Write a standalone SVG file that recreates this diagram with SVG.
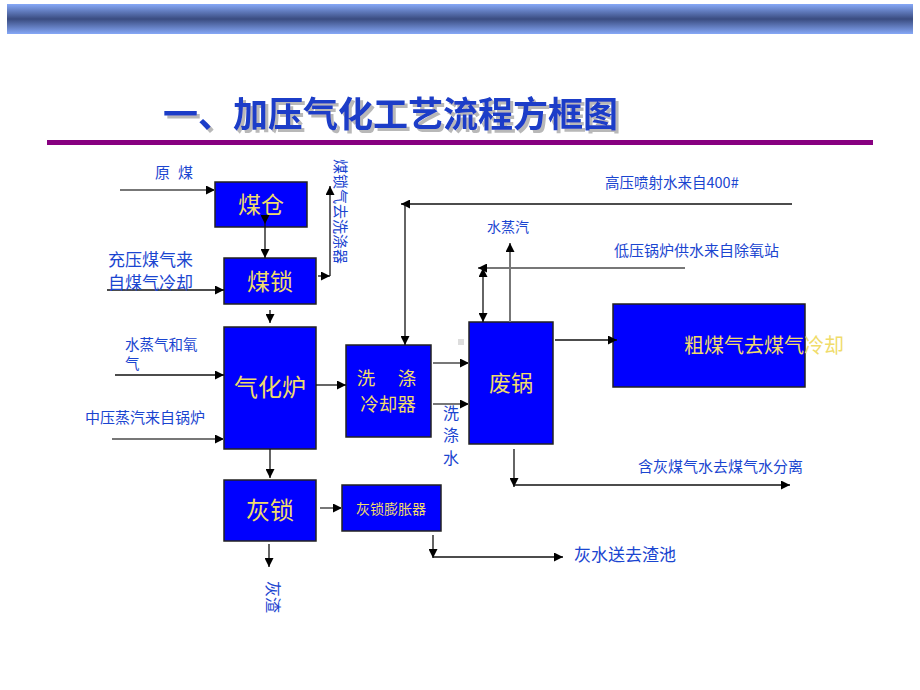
<svg xmlns="http://www.w3.org/2000/svg" width="920" height="690" viewBox="0 0 920 690">
<defs>
<linearGradient id="bar" x1="0" y1="0" x2="0" y2="1">
<stop offset="0" stop-color="#86a8f7"/>
<stop offset="0.5" stop-color="#3a4c80"/>
<stop offset="1" stop-color="#86a8f7"/>
</linearGradient>
<filter id="sh" x="-5%" y="-20%" width="110%" height="140%">
<feOffset in="SourceAlpha" dx="3" dy="3" result="o"/>
<feFlood flood-color="#888" flood-opacity="0.6"/>
<feComposite in2="o" operator="in" result="s"/>
<feMerge><feMergeNode in="s"/><feMergeNode in="SourceGraphic"/></feMerge>
</filter>
<marker id="ah" viewBox="0 0 10 10" refX="10" refY="5" markerWidth="9" markerHeight="9" markerUnits="userSpaceOnUse" orient="auto">
<path d="M0,0 L10,5 L0,10 z" fill="#000"/>
</marker>
<marker id="as" viewBox="0 0 10 10" refX="0" refY="5" markerWidth="9" markerHeight="9" markerUnits="userSpaceOnUse" orient="auto">
<path d="M10,0 L0,5 L10,10 z" fill="#000"/>
</marker>
</defs>
<style>
.box{fill:#0000ff;stroke:#222;stroke-width:1.5}
.bt{fill:#f0dc6a;font-family:"Noto Sans CJK SC","Liberation Sans",sans-serif;text-anchor:middle}
.lb{fill:#1a45d0;font-family:"Noto Sans CJK SC","Liberation Sans",sans-serif}
.ln{stroke:#111;stroke-width:1.3;fill:none}
.gl{stroke:#777;stroke-width:2;fill:none}
</style>
<rect x="7" y="4" width="906" height="30" fill="url(#bar)"/>
<text x="163" y="127" font-family="Noto Sans CJK SC,sans-serif" font-weight="bold" font-size="35" fill="#1a3cc8" filter="url(#sh)">一、加压气化工艺流程方框图</text>
<rect x="47" y="140" width="826" height="5" fill="#870080"/>

<g id="meicang"><rect class="box" x="215" y="182" width="92" height="45"/><text class="bt" x="261" y="213" font-size="23">煤仓</text></g>
<g id="meisuo"><rect class="box" x="224" y="258" width="92" height="46"/><text class="bt" x="270" y="290" font-size="23">煤锁</text></g>
<g id="qihualu"><rect class="box" x="224" y="327" width="92" height="122"/><text class="bt" x="270" y="396" font-size="24">气化炉</text></g>
<g id="xidi"><rect class="box" x="346" y="345" width="85" height="92"/><text class="bt" font-size="18.5"><tspan x="366" y="385">洗</tspan><tspan x="407" y="385">涤</tspan><tspan x="388" y="411">冷却器</tspan></text></g>
<g id="feiguo"><rect class="box" x="469" y="322" width="84" height="122"/><text class="bt" x="511" y="391" font-size="22">废锅</text></g>
<g id="cumeiqi"><rect class="box" x="613" y="304" width="192" height="83"/><text class="bt" x="764" y="353" font-size="20">粗煤气去煤气冷却</text></g>
<g id="huisuo"><rect class="box" x="224" y="480" width="92" height="61"/><text class="bt" x="270" y="519" font-size="24">灰锁</text></g>
<g id="pengzhang"><rect class="box" x="342" y="485" width="99" height="46"/><text class="bt" x="391" y="514" font-size="14">灰锁膨胀器</text></g>
<rect x="458" y="339" width="6" height="6" fill="#ddd"/>

<g id="connectors">
<line class="gl" x1="120" y1="190" x2="215" y2="190" marker-end="url(#ah)"/>
<line class="ln" x1="265" y1="216" x2="265" y2="224" marker-end="url(#ah)"/>
<line class="ln" x1="265" y1="224" x2="265" y2="258" marker-end="url(#ah)"/>
<line class="ln" x1="107" y1="290" x2="224" y2="290" marker-end="url(#ah)"/>
<line class="ln" x1="318" y1="276" x2="330" y2="276" marker-end="url(#ah)"/>
<line class="ln" x1="330" y1="276" x2="330" y2="186" marker-end="url(#ah)"/>
<line class="ln" x1="270" y1="310" x2="270" y2="323" marker-end="url(#ah)"/>
<line class="ln" x1="115" y1="375" x2="224" y2="375" marker-end="url(#ah)"/>
<line class="gl" x1="112" y1="439" x2="224" y2="439" marker-end="url(#ah)"/>
<line class="ln" x1="316" y1="385" x2="346" y2="385" marker-end="url(#ah)"/>
<line class="ln" x1="270" y1="449" x2="270" y2="478" marker-end="url(#ah)"/>
<line class="ln" x1="792" y1="204" x2="401" y2="204" marker-end="url(#ah)"/>
<line class="ln" x1="405" y1="204" x2="405" y2="345" marker-end="url(#ah)"/>
<line class="gl" x1="510" y1="322" x2="510" y2="243" marker-end="url(#ah)"/>
<line class="gl" x1="685" y1="268" x2="478" y2="268" marker-end="url(#ah)"/>
<line class="ln" x1="483" y1="268" x2="483" y2="322" marker-start="url(#as)" marker-end="url(#ah)"/>
<line class="gl" x1="433" y1="363" x2="469" y2="363" marker-end="url(#ah)"/>
<line class="gl" x1="433" y1="404" x2="469" y2="404" marker-end="url(#ah)"/>
<line class="ln" x1="555" y1="340" x2="617" y2="340" marker-end="url(#ah)"/>
<line class="ln" x1="514" y1="449" x2="514" y2="487" marker-end="url(#ah)"/>
<line class="ln" x1="514" y1="485" x2="790" y2="485" marker-end="url(#ah)"/>
<line class="gl" x1="320" y1="508" x2="342" y2="508" marker-end="url(#ah)"/>
<line class="ln" x1="269" y1="544" x2="269" y2="567" marker-end="url(#ah)"/>
<line class="ln" x1="433" y1="535" x2="433" y2="558" marker-end="url(#ah)"/>
<line class="ln" x1="433" y1="557" x2="563" y2="557" marker-end="url(#ah)"/>
</g>

<g id="labels">
<text class="lb" font-size="15"><tspan x="155" y="178">原</tspan><tspan x="178" y="178">煤</tspan></text>
<text class="lb" font-size="15" transform="translate(335,159) rotate(90)">煤锁气去洗涤器</text>
<text class="lb" font-size="17"><tspan x="108" y="266">充压煤气来</tspan><tspan x="108" y="289">自煤气冷却</tspan></text>
<text class="lb" font-size="14.5"><tspan x="125" y="350">水蒸气和氧</tspan><tspan x="125" y="369">气</tspan></text>
<text class="lb" x="85" y="423" font-size="15">中压蒸汽来自锅炉</text>
<text class="lb" x="605" y="188" font-size="14.5">高压喷射水来自400#</text>
<text class="lb" x="487" y="232" font-size="14">水蒸汽</text>
<text class="lb" x="614" y="256" font-size="15">低压锅炉供水来自除氧站</text>
<text class="lb" font-size="16"><tspan x="443" y="419">洗</tspan><tspan x="443" y="441">涤</tspan><tspan x="443" y="464">水</tspan></text>
<text class="lb" x="638" y="472" font-size="15">含灰煤气水去煤气水分离</text>
<text class="lb" x="574" y="561" font-size="17">灰水送去渣池</text>
<text class="lb" font-size="16" transform="translate(267,581) rotate(90)">灰渣</text>
</g>
</svg>
